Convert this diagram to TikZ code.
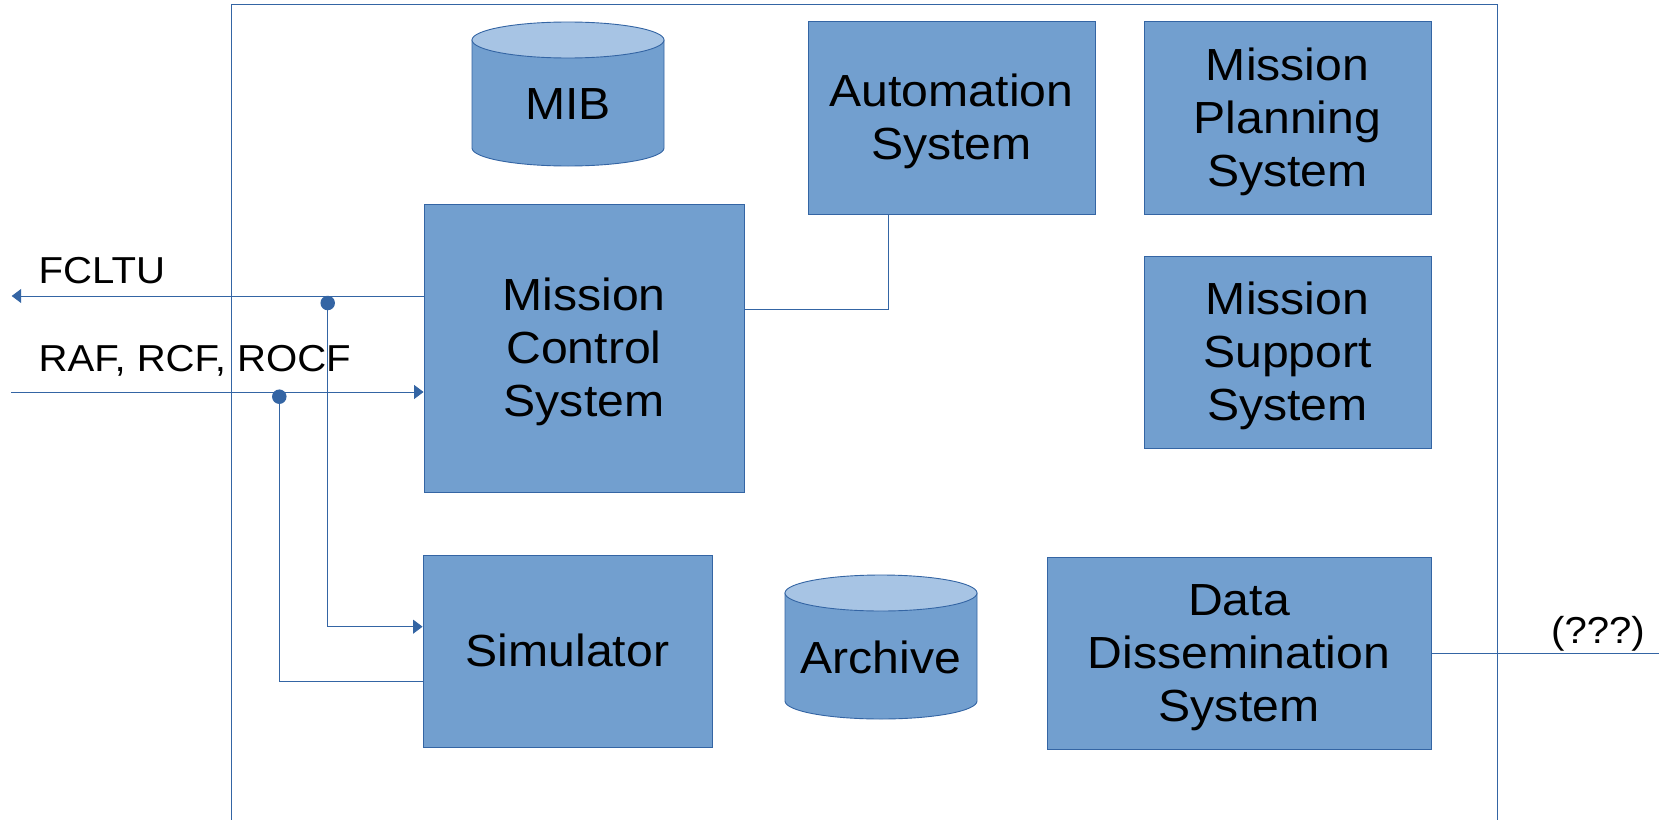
\documentclass[tikz,border=0pt]{standalone}
\usepackage{fontspec}
\setmainfont{Liberation Sans}[FakeStretch=1.07]
\usetikzlibrary{arrows.meta}
\definecolor{boxfill}{HTML}{729FCF}
\definecolor{boxline}{HTML}{3465A4}
\definecolor{cyltop}{HTML}{A7C4E4}
% line-box struts: full ascent above the first line, descent below the last
\newcommand\ascstrut{\rule{0pt}{0.905em}}
\newcommand\descstrut{\rule[-0.212em]{0pt}{0pt}}
\begin{document}
\begin{tikzpicture}[x=1pt,y=-1pt,
  bigtext/.style={font=\fontsize{45}{53}\selectfont},
  block/.style={draw=boxline, fill=boxfill, line width=0.9pt, inner sep=0pt,
    align=center, bigtext},
  cyltext/.style={inner sep=0pt, bigtext},
  cylbody/.style={draw=boxline, fill=boxfill, line width=0.9pt},
  cylcap/.style={draw=boxline, fill=cyltop, line width=0.9pt},
  conn/.style={draw=boxline, line width=0.9pt},
  tip/.style={-{Triangle[length=9.5pt,width=14pt]}},
  joint/.style={circle, fill=boxline, inner sep=0pt, minimum size=14.5pt},
  lbl/.style={inner sep=0pt, font=\fontsize{37.5}{44}\selectfont}]
\useasboundingbox (0,0) rectangle (1659,819);
\clip (0,0) rectangle (1659,819);
\fill[white] (0,0) rectangle (1659,819);

% system frame (open at the bottom)
\draw[conn] (231.5,840) -- (231.5,4) -- (1497.5,4) -- (1497.5,840);

% blocks
\node[block, minimum width=320pt, minimum height=288pt] (mcs) at (584,348)
  {\ascstrut Mission\\Control\\System\descstrut};
\node[block, minimum width=287pt, minimum height=193pt] (auto) at (951.5,117.5)
  {\ascstrut Automation\\System\descstrut};
\node[block, minimum width=287pt, minimum height=193pt] (mps) at (1287.5,117.5)
  {\ascstrut Mission\\Planning\\System\descstrut};
\node[block, minimum width=287pt, minimum height=192pt] (mss) at (1287.5,352)
  {\ascstrut Mission\\Support\\System\descstrut};
\node[block, minimum width=289pt, minimum height=192pt] (sim) at (567.5,651)
  {\ascstrut Simulator\descstrut};
\node[block, minimum width=384pt, minimum height=192pt] (dds) at (1239,653)
  {\ascstrut Data\\Dissemination\\System\descstrut};

% MIB database
\path[cylbody] (472,40) -- (472,148) arc[start angle=180, end angle=360, x radius=96pt, y radius=18pt] -- (664,40) -- cycle;
\path[cylcap] (568,40) ellipse [x radius=96pt, y radius=18pt];
\node[cyltext] (mib) at (568,103.7) {\ascstrut MIB\descstrut};

% Archive database
\path[cylbody] (785,593) -- (785,701) arc[start angle=180, end angle=360, x radius=96pt, y radius=18pt] -- (977,593) -- cycle;
\path[cylcap] (881,593) ellipse [x radius=96pt, y radius=18pt];
\node[cyltext] (arch) at (881,657.7) {\ascstrut Archive\descstrut};

% links
\coordinate (bend) at (888.7,309);
\draw[conn] (mcs.east |- bend) -| (auto.south -| bend);

\coordinate (fclEnd) at (11.7,296);
\coordinate (rafStart) at (11,392);
\draw[conn,tip] (mcs.west |- fclEnd) -- (fclEnd);
\draw[conn,tip] (rafStart) -- (mcs.west |- rafStart);

\node[joint] (dotA) at (327.7,303) {};
\node[joint] (dotB) at (279.3,396.7) {};
\coordinate (simIn) at (327.7,626.7);
\coordinate (simFb) at (279.3,681.3);
\draw[conn,tip] (dotA.center) |- (sim.west |- simIn);
\draw[conn] (dotB.center) |- (sim.west |- simFb);

\coordinate (ddsOut) at (1680,653);
\draw[conn] (dds.east) -- (ddsOut);

% labels
\node[lbl, anchor=base west] (fcltu) at (38.5,283.3) {FCLTU};
\node[lbl, anchor=base west] (raf) at (38.5,371.7) {RAF, RCF, ROCF};
\node[lbl, anchor=base] (unk) at (1598,643.8) {(???)};
\end{tikzpicture}
\end{document}
